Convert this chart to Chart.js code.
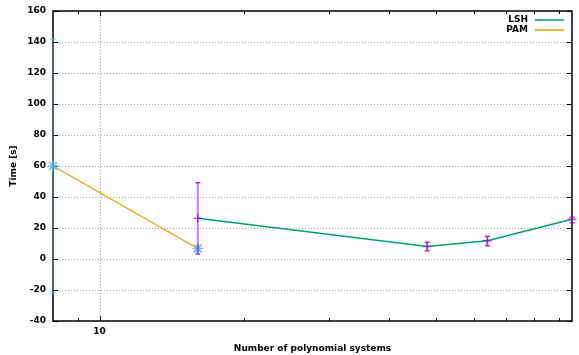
<!DOCTYPE html>
<html>
<head>
<meta charset="utf-8">
<script src="https://cdn.jsdelivr.net/npm/chart.js@4.4.1/dist/chart.umd.min.js"></script>
<style>
  html, body { margin: 0; padding: 0; background: #fff; }
  #wrap { width: 579px; height: 355px; }
</style>
</head>
<body>
<div id="wrap"><canvas id="timeChart"></canvas></div>
<script>
// measured runs: mean time and min/max range per number of systems
const lshSystems = [16, 48, 64, 96];
const lshTime = [26.3, 8.0, 11.8, 25.6];
const lshLow = [3.2, 5.2, 8.6, 23.4];
const lshHigh = [49.2, 10.8, 14.6, 26.9];

const pamSystems = [8, 16];
const pamTime = [60, 6.8];
const pamLow = [-22, 5.0];
const pamHigh = [142, 8.6];

const xMajorTicks = [10];
const xMinorTicks = [9, 20, 30, 40, 50, 60, 70, 80, 90];
const yTickValues = [-40, -20, 0, 20, 40, 60, 80, 100, 120, 140, 160];

const FONT = 'DejaVu Sans';
const LSH_COLOR = '#009e73';
const PAM_COLOR = '#e69f00';

function toPoints(xs, ys) {
    return xs.map((v, i) => ({ x: v, y: ys[i] }));
}

// frame, dotted grid and inward tick marks, gnuplot style
const frame = {
    id: 'frame',
    beforeDatasetsDraw(chart) {
        const { ctx, chartArea: a, scales: { x, y } } = chart;
        ctx.save();
        ctx.strokeStyle = '#a8a8a8';
        ctx.lineWidth = 1;
        ctx.setLineDash([1, 2]);
        ctx.beginPath();
        yTickValues.slice(1, -1).forEach(v => {
            const py = Math.round(y.getPixelForValue(v)) + 0.5;
            ctx.moveTo(a.left, py);
            ctx.lineTo(a.right, py);
        });
        xMajorTicks.forEach(v => {
            const px = Math.round(x.getPixelForValue(v)) + 0.5;
            ctx.moveTo(px, a.top);
            ctx.lineTo(px, a.bottom);
        });
        ctx.stroke();
        ctx.setLineDash([]);

        ctx.strokeStyle = '#000';
        ctx.lineWidth = 1;
        ctx.beginPath();
        yTickValues.forEach(v => {
            const py = Math.round(y.getPixelForValue(v)) + 0.5;
            ctx.moveTo(a.left, py); ctx.lineTo(a.left + 5, py);
            ctx.moveTo(a.right, py); ctx.lineTo(a.right - 5, py);
        });
        const xTick = (v, len) => {
            const px = Math.round(x.getPixelForValue(v)) + 0.5;
            ctx.moveTo(px, a.bottom); ctx.lineTo(px, a.bottom - len);
            ctx.moveTo(px, a.top); ctx.lineTo(px, a.top + len);
        };
        xMajorTicks.forEach(v => xTick(v, 5));
        xMinorTicks.forEach(v => xTick(v, 3));
        ctx.stroke();

        ctx.lineWidth = 1.5;
        ctx.strokeRect(a.left, a.top, a.right - a.left, a.bottom - a.top);
        ctx.restore();
    },
    afterDatasetsDraw(chart) {
        const { ctx, scales: { x, y } } = chart;
        const bars = (xs, lows, highs, barColor, capColor) => {
            xs.forEach((v, i) => {
                const px = x.getPixelForValue(v);
                const top = y.getPixelForValue(highs[i]);
                const bot = y.getPixelForValue(lows[i]);
                ctx.strokeStyle = barColor;
                ctx.lineWidth = 2;
                ctx.beginPath();
                ctx.moveTo(px, top);
                ctx.lineTo(px, bot);
                ctx.stroke();
                ctx.strokeStyle = capColor;
                ctx.lineWidth = 1.5;
                ctx.beginPath();
                ctx.moveTo(px - 2.5, top); ctx.lineTo(px + 2.5, top);
                ctx.moveTo(px - 2.5, bot); ctx.lineTo(px + 2.5, bot);
                ctx.stroke();
            });
        };
        ctx.save();
        bars(pamSystems, pamLow, pamHigh, 'rgba(86,180,233,0.35)', 'rgba(86,180,233,0.6)');
        bars(lshSystems, lshLow, lshHigh, 'rgba(148,0,211,0.5)', 'rgba(148,0,211,0.75)');
        ctx.restore();
    },
    afterDraw(chart) {
        const { ctx } = chart;
        ctx.save();
        ctx.font = 'bold 9px "' + FONT + '"';
        ctx.textAlign = 'right';
        ctx.textBaseline = 'middle';
        chart.data.datasets.forEach((ds, i) => {
            const ly = 20 + i * 10;
            ctx.fillStyle = '#000';
            ctx.fillText(ds.label, 528, ly);
            ctx.strokeStyle = ds.borderColor;
            ctx.lineWidth = 1.5;
            ctx.beginPath();
            ctx.moveTo(535, ly);
            ctx.lineTo(564, ly);
            ctx.stroke();
        });
        ctx.restore();
    }
};

const chart = new Chart(document.getElementById('timeChart').getContext('2d'), {
    type: 'line',
    data: {
        datasets: [{
            label: 'LSH',
            data: toPoints(lshSystems, lshTime),
            borderColor: LSH_COLOR,
            borderWidth: 1.5,
            pointStyle: 'cross',
            pointRadius: 4.5,
            pointBorderWidth: 1.5,
            pointBorderColor: 'rgba(148,0,211,0.6)',
            pointBackgroundColor: 'rgba(0,0,0,0)',
            fill: false,
            tension: 0,
            clip: false
        }, {
            label: 'PAM',
            data: toPoints(pamSystems, pamTime),
            borderColor: PAM_COLOR,
            borderWidth: 1.2,
            pointStyle: 'star',
            pointRadius: 5.5,
            pointBorderWidth: 1.5,
            pointBorderColor: 'rgba(86,180,233,0.85)',
            pointBackgroundColor: 'rgba(0,0,0,0)',
            fill: false,
            tension: 0,
            clip: false
        }]
    },
    options: {
        responsive: true,
        maintainAspectRatio: false,
        animation: false,
        events: [],
        layout: { padding: { top: 11, right: 1, left: 0, bottom: 0 } },
        plugins: {
            legend: { display: false },
            tooltip: { enabled: false }
        },
        scales: {
            x: {
                type: 'logarithmic',
                min: 8,
                max: 96,
                afterBuildTicks: scale => {
                    scale.ticks = xMajorTicks.map(v => ({ value: v, major: true }));
                },
                afterFit: scale => {
                    scale.height = 34;
                    scale.paddingLeft = 0;
                    scale.paddingRight = 0;
                },
                grid: { display: false, drawTicks: false },
                border: { display: false },
                ticks: {
                    autoSkip: false,
                    maxRotation: 0,
                    padding: 5,
                    color: '#000',
                    font: { family: FONT, size: 9, weight: 'bold' },
                    callback: v => String(v)
                },
                title: {
                    display: true,
                    text: 'Number of polynomial systems',
                    color: '#000',
                    padding: { top: 0, bottom: 1 },
                    font: { family: FONT, size: 9, weight: 'bold' }
                }
            },
            y: {
                min: -40,
                max: 160,
                afterBuildTicks: scale => {
                    scale.ticks = yTickValues.map(v => ({ value: v }));
                },
                afterFit: scale => {
                    scale.width = 53;
                    scale.paddingTop = 0;
                    scale.paddingBottom = 0;
                },
                grid: { display: false, drawTicks: false },
                border: { display: false },
                ticks: {
                    padding: 7,
                    color: '#000',
                    font: { family: FONT, size: 9, weight: 'bold' }
                },
                title: {
                    display: true,
                    text: 'Time [s]',
                    color: '#000',
                    padding: { top: 8, bottom: 0 },
                    font: { family: FONT, size: 9, weight: 'bold' }
                }
            }
        }
    },
    plugins: [frame]
});
</script>
</body>
</html>
